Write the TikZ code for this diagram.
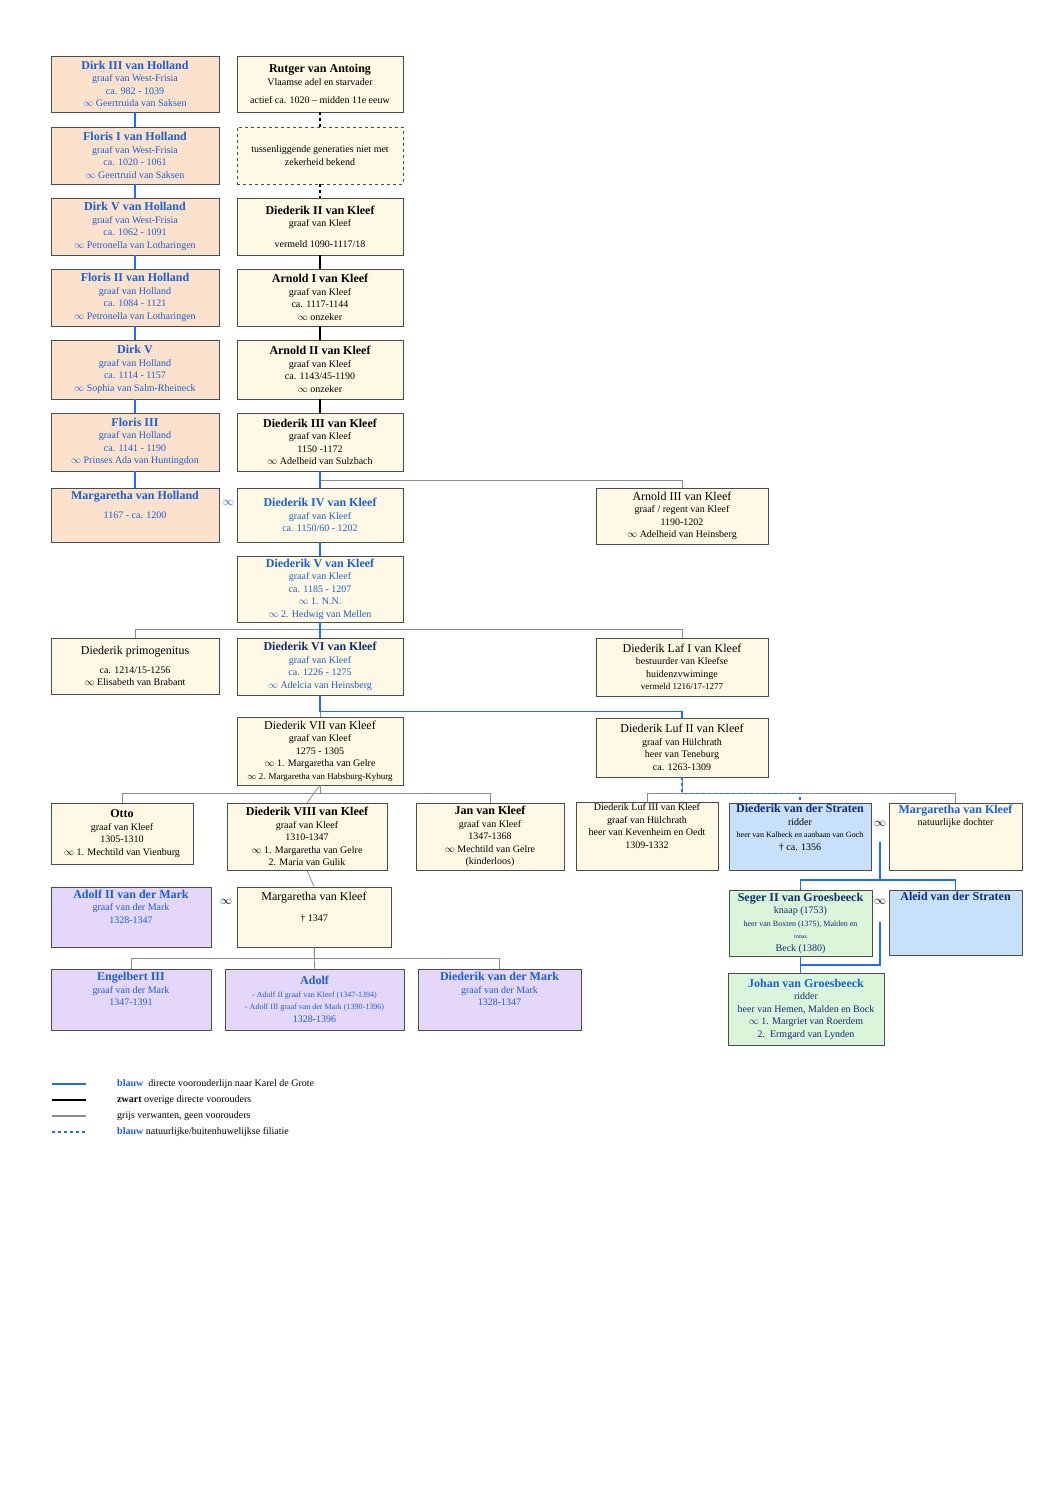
\documentclass[tikz,border=0pt]{standalone}
\usepackage{fontspec}
\setmainfont{Liberation Serif}
\usetikzlibrary{positioning}
\definecolor{hblue}{RGB}{25,95,215}
\definecolor{navy}{RGB}{15,45,115}
\definecolor{lineblue}{RGB}{30,110,240}
\definecolor{hollandfill}{RGB}{252,226,204}
\definecolor{kleeffill}{RGB}{254,248,228}
\definecolor{stratenfill}{RGB}{200,224,250}
\definecolor{groesfill}{RGB}{218,245,218}
\definecolor{markfill}{RGB}{228,215,250}
\newcommand{\mar}{$\infty$}
\newcommand{\ttl}[1]{{\fontsize{12}{14}\selectfont\bfseries #1}}
\newcommand{\ttn}[1]{{\fontsize{12}{14}\selectfont #1}}
\newcommand{\pers}[7]{\node[box,#2,minimum width={#5-#3},minimum height={#6-#4}] (#1) at ({(#3+#5)/2},{(#4+#6)/2}) {#7};}
\tikzset{
  box/.style={draw=black!70, line width=0.9pt, align=center, inner sep=1pt,
    font=\fontsize{10}{12.5}\selectfont},
  holland/.style={fill=hollandfill, text=hblue},
  kleef/.style={fill=kleeffill},
  straten/.style={fill=stratenfill},
  groes/.style={fill=groesfill},
  markbox/.style={fill=markfill, text=hblue},
  blueline/.style={draw=lineblue, line width=1.6pt},
  bluedash/.style={draw=lineblue, line width=1.6pt, dashed},
  blackline/.style={draw=black, line width=1.6pt},
  greyline/.style={draw=black!45, line width=0.8pt},
  marr/.style={font=\fontsize{12}{12}\selectfont\bfseries},
}
\begin{document}
\begin{tikzpicture}[x=1pt,y=-1pt]
\useasboundingbox (0,0) rectangle (1055,1491);

% Holland line
\pers{h1}{holland}{51}{56}{219}{112}{\ttl{Dirk III van Holland}\\graaf van West-Frisia\\ca. 982 - 1039\\\mar{} Geertruida van Saksen}
\pers{h2}{holland}{51}{127}{219}{184}{\ttl{Floris I van Holland}\\graaf van West-Frisia\\ca. 1020 - 1061\\\mar{} Geertruid van Saksen}
\pers{h3}{holland}{51}{198}{219}{255}{\ttl{Dirk V van Holland}\\graaf van West-Frisia\\ca. 1062 - 1091\\\mar{} Petronella van Lotharingen}
\pers{h4}{holland}{51}{269}{219}{326}{\ttl{Floris II van Holland}\\graaf van Holland\\ca. 1084 - 1121\\\mar{} Petronella van Lotharingen}
\pers{h5}{holland}{51}{340}{219}{399}{\ttl{Dirk V}\\graaf van Holland\\ca. 1114 - 1157\\\mar{} Sophia van Salm-Rheineck}
\pers{h6}{holland}{51}{413}{219}{471}{\ttl{Floris III}\\graaf van Holland\\ca. 1141 - 1190\\\mar{} Prinses Ada van Huntingdon}
\pers{h7}{holland}{51}{488}{219}{542}{\ttl{Margaretha van Holland}\\[7pt]1167 - ca. 1200\\[8pt]}

% Kleef line
\pers{rut}{kleef}{237}{56}{403}{112}{\ttl{Rutger van Antoing}\\Vlaamse adel en starvader\\[6pt]actief ca. 1020 -- midden 11e eeuw}
\pers{gap}{kleef,dashed}{237}{127}{403}{184}{tussenliggende generaties niet met\\zekerheid bekend}
\pers{k2}{kleef}{237}{198}{403}{255}{\ttl{Diederik II van Kleef}\\graaf van Kleef\\[8pt]vermeld 1090-1117/18}
\pers{k3}{kleef}{237}{269}{403}{326}{\ttl{Arnold I van Kleef}\\graaf van Kleef\\ca. 1117-1144\\\mar{} onzeker}
\pers{k4}{kleef}{237}{340}{403}{399}{\ttl{Arnold II van Kleef}\\graaf van Kleef\\ca. 1143/45-1190\\\mar{} onzeker}
\pers{k5}{kleef}{237}{413}{403}{471}{\ttl{Diederik III van Kleef}\\graaf van Kleef\\1150 -1172\\\mar{} Adelheid van Sulzbach}
\pers{k6}{kleef,text=hblue}{237}{488}{403}{542}{\ttl{Diederik IV van Kleef}\\graaf van Kleef\\ca. 1150/60 - 1202}
\pers{arn3}{kleef}{596}{488}{768}{544}{\ttn{Arnold III van Kleef}\\graaf / regent van Kleef\\1190-1202\\\mar{} Adelheid van Heinsberg}
\pers{k7}{kleef,text=hblue}{237}{556}{403}{622}{\ttl{Diederik V van Kleef}\\graaf van Kleef\\ca. 1185 - 1207\\\mar{} 1. N.N.\\\mar{} 2. Hedwig van Mellen}
\pers{prim}{kleef}{51}{638}{219}{694}{\ttn{Diederik primogenitus}\\[6pt]ca. 1214/15-1256\\\mar{} Elisabeth van Brabant}
\pers{k8}{kleef,text=hblue}{237}{638}{403}{695}{\textcolor{navy}{\ttl{Diederik VI van Kleef}}\\graaf van Kleef\\ca. 1226 - 1275\\\mar{} Adelcia van Heinsberg}
\pers{laf}{kleef}{596}{638}{768}{696}{\ttn{Diederik Laf I van Kleef}\\bestuurder van Kleefse\\huidenzvwiminge\\{\fontsize{9}{11}\selectfont vermeld 1216/17-1277}}
\pers{k9}{kleef}{237}{717}{403}{785}{\ttn{Diederik VII van Kleef}\\graaf van Kleef\\1275 - 1305\\\mar{} 1. Margaretha van Gelre\\{\fontsize{9}{11}\selectfont\mar{} 2. Margaretha van Habsburg-Kyburg}}
\pers{luf2}{kleef}{596}{718}{768}{777}{\ttn{Diederik Luf II van Kleef}\\graaf van Hülchrath\\heer van Teneburg\\ca. 1263-1309}

% generation of Otto
\pers{otto}{kleef}{51}{803}{193}{864}{\ttl{Otto}\\graaf van Kleef\\1305-1310\\\mar{} 1. Mechtild van Vienburg}
\pers{k10}{kleef}{227}{803}{387}{870}{\ttl{Diederik VIII van Kleef}\\graaf van Kleef\\1310-1347\\\mar{} 1. Margaretha van Gelre\\2. Maria van Gulik}
\pers{jan}{kleef}{416}{803}{564}{870}{\ttl{Jan van Kleef}\\graaf van Kleef\\1347-1368\\\mar{} Mechtild van Gelre\\(kinderloos)}
\pers{luf3}{kleef}{576}{803}{718}{870}{Diederik Luf III van Kleef\\graaf van Hülchrath\\heer van Kevenheim en Oedt\\1309-1332\\[9pt]}
\pers{vds}{straten}{729}{803}{871}{870}{\textcolor{navy}{\ttl{Diederik van der Straten}}\\ridder\\{\fontsize{8}{10}\selectfont heer van Kalbeck en aanbaan van Goch}\\\dag{} ca. 1356\\[6pt]}
\pers{mvk}{kleef}{889}{803}{1022}{870}{\textcolor{hblue}{\ttl{Margaretha van Kleef}}\\natuurlijke dochter\\[30pt]}

% van der Mark
\pers{ad2}{markbox}{51}{887}{211}{947}{\ttl{Adolf II van der Mark}\\graaf van der Mark\\1328-1347\\[8pt]}
\pers{k11}{kleef}{237}{887}{391}{947}{\ttn{Margaretha van Kleef}\\[8pt]\dag{} 1347\\[8pt]}
\pers{eng}{markbox}{51}{969}{211}{1030}{\ttl{Engelbert III}\\graaf van der Mark\\1347-1391\\[8pt]}
\pers{adolf}{markbox}{225}{969}{404}{1030}{\ttl{Adolf}\\{\fontsize{8}{10}\selectfont - Adolf II graaf van Kleef (1347-1394)}\\{\fontsize{8}{10}\selectfont - Adolf III graaf van der Mark (1390-1396)}\\1328-1396}
\pers{dmark}{markbox}{418}{969}{581}{1030}{\ttl{Diederik van der Mark}\\graaf van der Mark\\1328-1347\\[8pt]}

% Groesbeeck
\pers{seger}{groes,text=navy}{729}{890}{872}{956}{\ttl{Seger II van Groesbeeck}\\knaap (1753)\\{\fontsize{8}{9}\selectfont heer van Boxten (1375), Malden en}\\{\fontsize{6}{6}\selectfont tnnas}\\Beck (1380)}
\pers{aleid}{straten}{889}{890}{1022}{955}{\textcolor{navy}{\ttl{Aleid van der Straten}}\\[40pt]}
\pers{johan}{groes,text=navy}{728}{973}{884}{1045}{\textcolor{hblue}{\ttl{Johan van Groesbeeck}}\\ridder\\heer van Hemen, Malden en Bock\\\mar{} 1. Margriet van Roerdem\\2.\ \ Ermgard van Lynden}

% marriages
\node[marr,text=hblue] (x1) at (228,503) {$\infty$};
\node[marr] (x2) at (226,902) {$\infty$};
\node[marr] (x3) at (880,824) {$\infty$};
\node[marr] (x4) at (880,902) {$\infty$};

% grey relatives
\draw[greyline] (k5.south) -- ++(0,9) -| (arn3.north);
\draw[greyline] (k7.south) -- ++(0,7) -| (prim.north);
\draw[greyline] (k7.south) -- ++(0,7) -| (laf.north);
\draw[greyline] (k8.south) -- (k9.north);
\draw[greyline] (k9.south) -- ++(0,8) -| (otto.north);
\draw[greyline] (k9.south) -- ++(0,8) -| (jan.north);
\draw[greyline] (k9.south) -- (k10.north);
\draw[greyline] (luf2.south) -- ++(0,16) -| (luf3.north);
\draw[greyline] (luf2.south) -- ++(0,16) -| (mvk.north);
\draw[greyline] (k10.south) -- (k11.north);
\draw[greyline] (k11.south) -- ++(0,11) -| (eng.north);
\draw[greyline] (k11.south) -- ++(0,11) -| (dmark.north);
\draw[greyline] (k11.south) -- (adolf.north);

% black ancestors
\draw[blackline, dashed] (rut.south) -- (gap.north);
\draw[blackline, dashed] (gap.south) -- (k2.north);
\draw[blackline] (k2.south) -- (k3.north);
\draw[blackline] (k3.south) -- (k4.north);
\draw[blackline] (k4.south) -- (k5.north);

% blue line
\foreach \a/\b in {h1/h2,h2/h3,h3/h4,h4/h5,h5/h6,h6/h7,k5/k6,k6/k7,k7/k8}
  \draw[blueline] (\a.south) -- (\b.north);
\draw[blueline] (k8.south) -- ++(0,16) -| (luf2.north);
\draw[bluedash] (luf2.south) -- ++(0,16) -| (vds.north);
\coordinate (m1) at (880,842);
\coordinate (j1) at (880,880);
\draw[blueline] (m1) -- (j1);
\draw[blueline] (seger.north) |- (j1) -| (aleid.north);
\coordinate (m2) at (880,922);
\coordinate (j2) at (800,965);
\draw[blueline] (m2) |- (j2);
\draw[blueline] (seger.south) -- (seger.south |- johan.north);

% legend
\foreach \y/\s/\t in {1084/blueline/{\textcolor{hblue}{\bfseries blauw}\ \ directe voorouderlijn naar Karel de Grote},
                      1100/blackline/{\bfseries zwart\mdseries{} overige directe voorouders},
                      1116/greyline/{grijs verwanten, geen voorouders},
                      1132/bluedash/{\textcolor{hblue}{\bfseries blauw} natuurlijke/buitenhuwelijkse filiatie}} {
  \coordinate (la\y) at (52,\y);
  \draw[\s, line width=1.2pt] (la\y) -- ++(34,0);
  \node[anchor=west, inner sep=0pt, font=\fontsize{10}{12}\selectfont] (lt\y) at (117,\y) {\t};
}
\end{tikzpicture}
\end{document}
